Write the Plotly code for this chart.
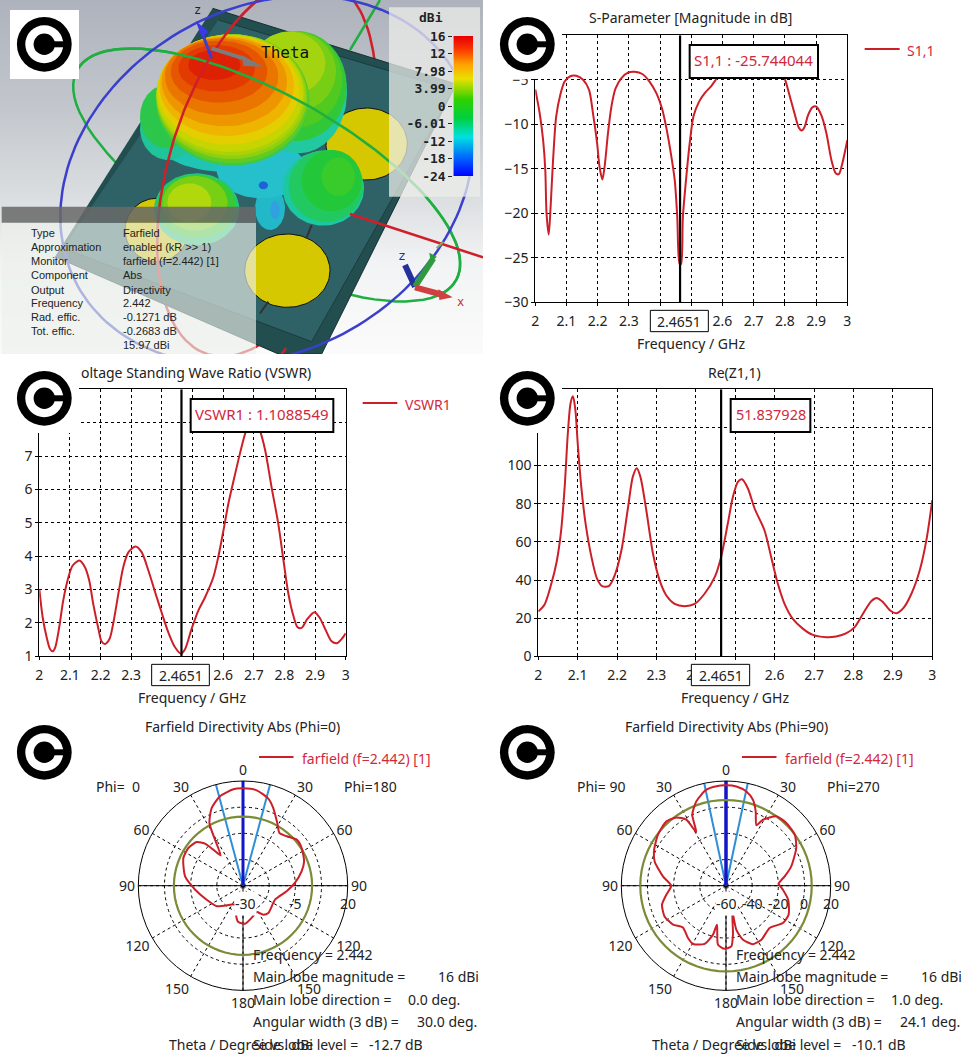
import numpy as np
import plotly.graph_objects as go

W, H = 966, 1062
FONT = "Noto Sans"
TXT = "#222222"
RED = "#cc1f28"
RED_TXT = "#d2283c"

# ---------- data ----------
marker_freq = 2.464
marker_label = "2.4651"

s11_f = [2,2.014,2.025,2.032,2.036,2.043,2.049,2.057,2.067,2.08,2.094,2.112,2.131,2.153,2.172,2.185,2.198,2.206,2.215,2.222,2.233,2.244,2.257,2.276,2.297,2.318,2.343,2.366,2.388,2.406,2.42,2.436,2.447,2.455,2.4627,2.467,2.473,2.484,2.495,2.507,2.525,2.543,2.564,2.585,2.62,2.66,2.7,2.74,2.78,2.799,2.813,2.831,2.845,2.854,2.863,2.874,2.888,2.9,2.917,2.933,2.949,2.963,2.973,2.984,3]
s11_db = [-6.07,-8.76,-11.76,-15.1,-20,-22.4,-19.3,-14,-9.1,-6.7,-5.2,-4.6,-4.55,-5,-6.1,-8.8,-12.1,-14.8,-16.2,-14.8,-11,-8,-6,-4.8,-4.2,-4.1,-4.35,-5.2,-6.5,-8.2,-10.4,-13.6,-16.3,-20.4,-25.7,-25.7,-20.4,-15.9,-12.1,-9.1,-7.45,-6.5,-5.7,-4.7,-3.5,-2.5,-2.2,-2.5,-3.5,-4.8,-6.5,-8.8,-10.4,-10.7,-10.3,-9,-8.1,-8,-9,-11,-14,-15.5,-15.6,-14.4,-11.8]

vswr_f = [2,2.011,2.024,2.035,2.044,2.052,2.065,2.078,2.095,2.109,2.131,2.149,2.163,2.176,2.193,2.203,2.214,2.229,2.242,2.258,2.274,2.291,2.314,2.334,2.356,2.378,2.399,2.421,2.443,2.4625,2.476,2.497,2.519,2.541,2.568,2.584,2.601,2.617,2.633,2.655,2.675,2.698,2.72,2.737,2.758,2.78,2.797,2.813,2.829,2.843,2.856,2.875,2.898,2.914,2.933,2.954,2.971,2.987,3]
vswr_v = [3.02,2.17,1.57,1.22,1.15,1.27,1.87,2.67,3.37,3.72,3.87,3.67,3.27,2.57,1.82,1.45,1.37,1.52,2.02,2.87,3.67,4.12,4.29,4.12,3.57,2.92,2.32,1.72,1.27,1.08,1.22,1.82,2.37,2.77,3.37,3.97,4.77,5.57,6.22,7.08,7.76,8.2,7.76,7.18,6.07,4.97,3.87,2.87,2.22,1.87,1.85,2.12,2.32,2.17,1.82,1.45,1.39,1.52,1.69]

rez_f = [2,2.016,2.033,2.047,2.058,2.067,2.075,2.082,2.088,2.094,2.1,2.109,2.12,2.135,2.149,2.162,2.179,2.194,2.211,2.228,2.24,2.25,2.259,2.274,2.291,2.308,2.325,2.346,2.371,2.397,2.422,2.448,2.464,2.481,2.494,2.507,2.517,2.532,2.549,2.574,2.591,2.608,2.625,2.646,2.672,2.697,2.731,2.756,2.782,2.803,2.824,2.845,2.86,2.875,2.893,2.909,2.927,2.947,2.968,2.985,3]
rez_v = [23.5,27.2,38,50,66,89,117,132.8,136.3,129.3,111.8,89,69.6,52,40.7,36.8,36.8,42.5,55.6,78.4,94.2,98.6,94.2,76.7,53.9,39.8,31.9,27.5,26.3,27.5,32.8,41.6,52.1,69.6,83.7,91.6,92.8,88,77.5,66.1,52.1,38,27.5,19.6,14.4,11.2,10,10.4,12.1,15.3,22.3,28.9,30.5,28.4,24,22.6,25.4,32.8,45,60.9,81.9]

phi0_theta = [0,8.2,16.2,21.3,28.7,34.6,41.5,49.4,57.3,68.3,76.3,87,97.4,113.6,137.2,145,152.6,165,177,187.3,193.6,198.4,210.8,231.9,248.9,265.2,279.1,294.9,304.6,313.3,317.9,320.5,323.6,328.7,331.8,338,345.6,354.3,360]
phi0_db = [16.5,16,13.3,9.8,4.1,0.6,1.5,3.8,3.3,1.4,-1.2,-5.2,-9,-13.3,-12.2,-13.1,-15.8,-14.1,-11.8,-12.5,-15.8,-20.4,-19.5,-14.1,-11.4,-7.1,-2,1.4,1.7,0.4,-2.9,-7.7,-12,-4.2,3.9,10,14.1,16.3,16.5]

phi90_theta = [0,6,12.2,17.4,21.8,26.7,29.3,36,43.9,53.4,61.8,73.5,81,87.8,94,102.7,114.8,123.2,134.1,146.8,155.2,162.5,166.8,166.1,171.9,175,181.2,187.7,193,194.9,200.1,209.5,216,225.9,233.7,243.4,253.5,261.4,270,278.4,288.8,296.6,306.9,317.2,324,329,331,334.6,340.6,348.4,354.5,360]
phi90_db = [16.7,16.2,13.6,8.8,1.1,-8.3,-2.2,5.5,6.5,5.5,0.9,-8,-14.6,-19.7,-16.4,-11.3,-7.3,-8,-13.6,-10.6,-10.8,-16.7,-25.3,-39.9,-22.3,-13.4,-11.8,-14.4,-29.4,-21.3,-12.6,-8.8,-10.6,-14.1,-9.8,-7.5,-9,-13.9,-18.2,-11.3,-2.4,1.4,5,7,4.5,-1.1,-13.1,0.1,8.3,14.9,16.4,16.7]

freq_ticks = [2,2.1,2.2,2.3,2.4,2.5,2.6,2.7,2.8,2.9,3]
freq_labels = ["2","2.1","2.2","2.3","2.4","2.5","2.6","2.7","2.8","2.9","3"]
s11_ticks = [-30,-25,-20,-15,-10,-5,0]
vswr_ticks = [1,2,3,4,5,6,7,8,9]
rez_ticks = [0,20,40,60,80,100,120,140]
angle_ticks = [0,30,60,90,120,150,180,210,240,270,300,330]
angle_labels = ["0","30","60","90","120","150","180","150","120","90","60","30"]

cbar_labels = ["-24","-18","-12","-6.01","0","3.99","7.98","12","16"]
cbar_levels = [0,0.5,1,1.5,2,2.5,3,3.5,4,4.5,5,5.5,6,6.5,7,7.5,8]

info_names = ["Type","Approximation","Monitor","Component","Output","Frequency","Rad. effic.","Tot. effic."]
info_values = ["Farfield","enabled (kR >> 1)","farfield (f=2.442) [1]","Abs","Directivity","2.442","-0.1271 dB","-0.2683 dB","15.97 dBi"]
info_rows = [698,741,783,825,870,909,951,993,1035]

# ---------- helpers ----------
def px(x): return x / W
def py(y): return 1 - y / H

fig = go.Figure()
shapes, anns = [], []

def ann(text, x, y, anchor="center", color=TXT, size=14, family=FONT, bg=None, w=None, h=None, weight=None):
    d = dict(text=text, x=px(x), y=py(y), xref="paper", yref="paper", showarrow=False,
             xanchor=anchor, yanchor="middle", align="left",
             font=dict(family=family, size=size, color=color, weight=weight), borderpad=0)
    if bg: d["bgcolor"] = bg
    if w: d["width"] = w
    if h: d["height"] = h
    anns.append(d)

def rect(x0, y0, x1, y1, fill="white", line="black", lw=1):
    shapes.append(dict(type="rect", xref="paper", yref="paper", layer="above",
                       x0=px(x0), x1=px(x1), y0=py(y0), y1=py(y1), fillcolor=fill,
                       line=dict(color=line, width=lw)))

def disc(cx, cy, r, fill):
    shapes.append(dict(type="circle", xref="paper", yref="paper", layer="above",
                       x0=px(cx-r), x1=px(cx+r), y0=py(cy-r), y1=py(cy+r), fillcolor=fill,
                       line=dict(width=0)))

def hline(x0, x1, y, color=RED, lw=2):
    shapes.append(dict(type="line", xref="paper", yref="paper", layer="above",
                       x0=px(x0), x1=px(x1), y0=py(y), y1=py(y), line=dict(color=color, width=lw)))

def logo(ox, oy):
    rect(ox+10, oy+10, ox+79, oy+79, line="white", lw=0)
    cx, cy = ox+44.3, oy+44.3
    disc(cx, cy, 27.4, "black")
    disc(cx, cy, 19, "white")
    rect(cx, cy-3, cx+21, cy+3, fill="black", line="black", lw=0)
    disc(cx, cy, 10.7, "black")

def ell(cx, cy, a, b, tilt=0, t0=0, t1=360, n=90):
    t = np.radians(np.linspace(t0, t1, n))
    c, s = np.cos(np.radians(tilt)), np.sin(np.radians(tilt))
    x = cx + a*np.cos(t)*c - b*np.sin(t)*s
    y = cy + a*np.cos(t)*s + b*np.sin(t)*c
    return x, y

# ---------- panel 1: illustration in 3x pixel units ----------
def pix_fill(x, y, color, line=None, lw=0):
    fig.add_trace(go.Scatter(x=list(x), y=list(y), mode="lines", fill="toself", fillcolor=color,
                             line=dict(color=line or "rgba(0,0,0,0)", width=lw), hoverinfo="skip",
                             xaxis="x", yaxis="y", showlegend=False))

def pix_line(x, y, color, lw=2):
    fig.add_trace(go.Scatter(x=list(x), y=list(y), mode="lines", line=dict(color=color, width=lw),
                             hoverinfo="skip", xaxis="x", yaxis="y", showlegend=False))

BG_Y = [0,150,300,450,600,750,900,1062]
BG_Z = [0,1,2,3,4,5,6,7]
fig.add_trace(go.Heatmap(x=[0,1449], y=BG_Y, z=[[v,v] for v in BG_Z], showscale=False, hoverinfo="skip",
                         zsmooth="best", xaxis="x", yaxis="y",
                         colorscale=[[0,"#aeb2bc"],[0.3,"#c2c6cc"],[0.58,"#dde0e2"],[0.75,"#f2f3f4"],[1,"#fbfbfb"]]))

C_RED, C_GRN, C_BLU = "#cf1f2a", "#1fae40", "#3a40cc"
RED_RING = (800, 500, 590, 290, 107.5)
GRN_RING = (800, 525, 650, 242, 29)
# rings behind the board
x, y = ell(*GRN_RING); pix_line(x, y, C_GRN, 2.5)
x, y = ell(*RED_RING, n=120); pix_line(x, y, C_RED, 2.5)
pix_line([1050,1140], [150,0], C_GRN, 2.5)

# board
pix_fill([638,1368,965,835,165], [25,252,1062,1062,770], "#234e50", "#152f30", 1)
pix_fill([655,1360,935,190], [60,270,1025,745], "#2f6266", "#1c3b3d", 1)
# patches
for cx, cy, rx, ry in [(1100,432,122,108),(862,812,128,110),(470,690,95,95)]:
    x, y = ell(cx, cy, rx, ry); pix_fill(x, y, "#d6c800", "#111111", 1)

# lobes: (cx, cy, rx, ry, colour)
lobes = [
 (810,625,45,65,"#22b8c8"),
 (690,405,235,112,"#1fc4b4"),(785,510,135,85,"#25c0cc"),
 (505,385,85,95,"#1fc49a"),(500,350,80,95,"#2cc74a"),
 (895,280,146,180,"#22c8a0"),(890,258,150,165,"#30c838"),(885,238,142,145,"#50ca20"),(878,215,130,122,"#78ce14"),(868,190,108,95,"#a4d410"),
 (590,628,128,108,"#22c878"),(590,620,118,95,"#38ca30"),(585,610,98,82,"#78cf14"),(568,608,66,58,"#b0d80c"),
 (970,565,122,112,"#1cc8a0"),(978,558,112,108,"#22c860"),(995,542,90,92,"#22c83a"),(1015,530,50,58,"#38cb2a"),
 (698,300,230,197,"#3ec848"),(697,296,229,193,"#62cb22"),(695,290,226,187,"#8ed010"),(692,285,223,182,"#aad208"),(690,280,220,176,"#c6d400"),(685,270,212,164,"#e4ce00"),
 (680,258,202,150,"#efb400"),(673,245,188,134,"#ee9600"),(665,230,170,115,"#ea7600"),(657,215,145,93,"#e65600"),
 (650,205,115,70,"#e23a00"),(643,195,78,45,"#de2004"),
 (790,556,14,12,"#2060d8"),(825,630,14,28,"#30a0e0"),
]
for cx, cy, rx, ry, col in lobes:
    x, y = ell(cx, cy, rx, ry); pix_fill(x, y, col)

# rings in front
x, y = ell(*GRN_RING, 175, 375); pix_line(x, y, C_GRN, 2.5)
x, y = ell(*RED_RING, 40, 180); pix_line(x, y, C_RED, 2.5)
x, y = ell(800, 540, 650, 515, -30, n=160); pix_line(x, y, C_BLU, 2.5)
pix_line([1050,1449], [642,772], C_RED, 2.5)
pix_line([858,845], [1045,1062], C_RED, 2.5)

# axis arrows
pix_line([635,605], [175,95], C_BLU, 3)
pix_fill([587,627,605], [62,96,112], "#3a38e8")
pix_line([635,730], [145,175], "#7c7c7c", 4)
pix_fill([725,790,730], [165,200,198], "#7c7c7c")
pix_line([1245,1215], [860,795], "#24309c", 6)
pix_line([1245,1300], [860,775], "#2f9a40", 6)
pix_fill([1288,1310,1292], [758,770,790], "#2f9a40")
pix_line([1245,1330], [862,885], "#d04040", 6)
pix_fill([1315,1358,1318], [868,892,900], "#d04040")
pix_line([1310,1330], [745,725], "#79b15a", 2)
pix_line([935,920], [675,712], "#333333", 2)
pix_line([805,780], [905,940], "#333333", 2)

# translucent panels
pix_fill([1167,1440,1440,1167], [22,22,590,590], "rgba(236,238,234,0.74)")
pix_fill([5,768,768,5], [668,668,1062,1062], "rgba(236,240,234,0.66)")
pix_fill([5,768,768,5], [620,620,668,668], "rgba(105,105,105,0.86)")

# colour bar
fig.add_trace(go.Heatmap(z=[[v] for v in cbar_levels], y=cbar_levels, x=[0], xaxis="x2", yaxis="y2",
                         showscale=False, hoverinfo="skip", zsmooth="best",
                         colorscale=[[0,"#0000ff"],[0.13,"#0060ff"],[0.28,"#00e0e0"],[0.42,"#00d040"],
                                     [0.55,"#30d000"],[0.7,"#e8e000"],[0.8,"#ffa000"],[0.92,"#f83000"],[1,"#e80000"]]))

MONO = "DejaVu Sans Mono"
ann("Theta", 285, 53, family=MONO, size=16, color="#111111")
ann("z", 197, 10, family=MONO, size=12, color="#222222")
ann("dBi", 431, 17, family=MONO, size=13, color="#222222", weight=700)
ann("z", 402, 256, family=MONO, size=13, color="#2a30a0")
ann("x", 460, 302, family=MONO, size=12, color="#c83030")
for name, row in zip(info_names, info_rows):
    ann(name, 29.5, row/3, "left", family="Liberation Sans", size=11)
for val, row in zip(info_values, info_rows):
    ann(val, 121.5, row/3, "left", family="Liberation Sans", size=11)

# ---------- line panels ----------
AX = dict(showline=True, mirror=True, linecolor="black", linewidth=1, ticks="outside", ticklen=3, tickcolor="black",
          showgrid=True, gridcolor="black", gridwidth=1, griddash="3px,3px", zeroline=False, fixedrange=True,
          tickfont=dict(family=FONT, size=14, color=TXT))

def curve(x, y, ax, ay):
    fig.add_trace(go.Scatter(x=x, y=y, mode="lines", line=dict(color=RED, width=2, shape="spline", smoothing=0.8),
                             xaxis=ax, yaxis=ay, hoverinfo="skip", showlegend=False))

def marker(ymin, ymax, ax, ay):
    fig.add_trace(go.Scatter(x=[marker_freq, marker_freq], y=[ymin, ymax], mode="lines",
                             line=dict(color="black", width=2.2), xaxis=ax, yaxis=ay, hoverinfo="skip", showlegend=False))

curve(s11_f, s11_db, "x3", "y3"); marker(-30, 0, "x3", "y3")
curve(vswr_f, vswr_v, "x4", "y4"); marker(1, 9, "x4", "y4")
curve(rez_f, rez_v, "x5", "y5"); marker(0, 140, "x5", "y5")

# ---------- polar panels ----------
def polar(theta, db, rmin, rmax, contour, beam, sub):
    for t, col, lw in [(90,"black",1),(270,"black",1),(180,"black",1),(beam,"#2f8fd6",2),(-beam,"#2f8fd6",2),(0,"#1414c8",3 if sub=="polar" else 3.5)]:
        fig.add_trace(go.Scatterpolar(theta=[t,t], r=[rmin,rmax], mode="lines", line=dict(color=col, width=lw),
                                      subplot=sub, hoverinfo="skip", showlegend=False))
    angs = list(range(0,361,5))
    fig.add_trace(go.Scatterpolar(theta=angs, r=[contour]*len(angs), mode="lines", line=dict(color="#7a8c38", width=2.2),
                                  subplot=sub, hoverinfo="skip", showlegend=False))
    fig.add_trace(go.Scatterpolar(theta=theta, r=db, mode="lines", line=dict(color=RED, width=2, shape="spline", smoothing=0.6),
                                  subplot=sub, hoverinfo="skip", showlegend=False))

polar(phi0_theta, phi0_db, -30, 20, 3, 15, "polar")
polar(phi90_theta, phi90_db, -60, 20, 5.5, 12, "polar2")

def polar_layout(ox, oy, rmin, rmax, rticks):
    cx, cy, R = ox+243, oy+177.7, 104.7
    return dict(domain=dict(x=[px(cx-R), px(cx+R)], y=[py(cy+R), py(cy-R)]), bgcolor="white",
                radialaxis=dict(range=[rmin, rmax], tickvals=rticks, showticklabels=False, ticks="", showline=False,
                                gridcolor="black", gridwidth=1, griddash="3px,3px"),
                angularaxis=dict(rotation=90, direction="clockwise", tickmode="array", tickvals=angle_ticks, ticktext=angle_labels,
                                 ticks="", showline=True, linecolor="black", linewidth=1, gridcolor="black", gridwidth=1,
                                 griddash="3px,3px", tickfont=dict(family=FONT, size=14, color=TXT)))

# ---------- layout ----------
def dom_x(a, b): return [px(a), px(b)]
def dom_y(a, b): return [py(b), py(a)]

layout = dict(
    width=W, height=H, margin=dict(l=0, r=0, t=0, b=0, pad=0, autoexpand=False), paper_bgcolor="white", plot_bgcolor="white",
    showlegend=False, hovermode=False,
    xaxis=dict(domain=dom_x(0,483), range=[0,1449], visible=False, fixedrange=True),
    yaxis=dict(domain=dom_y(0,354), range=[1062,0], visible=False, fixedrange=True),
    xaxis2=dict(domain=dom_x(453.3,473.3), range=[-0.5,0.5], visible=False, fixedrange=True, anchor="y2"),
    yaxis2=dict(domain=dom_y(36,176), range=[0,8], anchor="x2", tickmode="array", tickvals=list(range(9)), ticktext=cbar_labels,
                ticks="outside", ticklen=4, tickcolor="#222222", showgrid=False, zeroline=False, fixedrange=True,
                tickfont=dict(family=MONO, size=13, color="#222222", weight=700)),
    xaxis3=dict(domain=dom_x(535.3,847.3), range=[2,3], anchor="y3", tickmode="array", tickvals=freq_ticks, ticktext=freq_labels, ticklabelstandoff=3, **AX),
    yaxis3=dict(domain=dom_y(35.3,302.3), range=[-30,0], anchor="x3", tickmode="array", tickvals=s11_ticks, **AX),
    xaxis4=dict(domain=dom_x(39.3,345.7), range=[2,3], anchor="y4", tickmode="array", tickvals=freq_ticks, ticktext=freq_labels, ticklabelstandoff=3, **AX),
    yaxis4=dict(domain=dom_y(389.3,656.3), range=[1,9], anchor="x4", tickmode="array", tickvals=vswr_ticks, **AX),
    xaxis5=dict(domain=dom_x(538.3,932.3), range=[2,3], anchor="y5", tickmode="array", tickvals=freq_ticks, ticktext=freq_labels, ticklabelstandoff=3, **AX),
    yaxis5=dict(domain=dom_y(389.3,656.3), range=[0,140], anchor="x5", tickmode="array", tickvals=rez_ticks, **AX),
    polar=polar_layout(0,708,-30,20,[-17.5,-5,7.5]),
    polar2=polar_layout(483,708,-60,20,[-40,-20,0]),
)

# chart panel furniture (zoom units /3)
def panel_text(ox, oy, title, tx, xtitle_x, mark_box, call_box, call_text, legend=None, call_size=15):
    ann(title, ox+tx/3, oy+18)
    ann("Frequency / GHz", ox+xtitle_x/3, oy+343.5)
    b = mark_box
    rect(ox+b[0]/3, oy+931/3, ox+b[1]/3, oy+995/3)
    ann(marker_label, ox+(b[0]+b[1])/6, oy+321.5)
    c = call_box
    rect(ox+c[0]/3, oy+45, ox+c[1]/3, oy+78, lw=2)
    ann(call_text, ox+(c[0]+c[1])/6, oy+60, color=RED_TXT, size=call_size)
    if legend:
        hline(ox+legend[0]/3, ox+legend[1]/3, oy+49)
        ann(legend[3], ox+legend[2]/3, oy+50, "left", color=RED_TXT)

for ox, oy in [(0,0),(483,0),(0,354),(483,354),(0,708),(483,708)]:
    logo(ox, oy)

panel_text(483,0,"S-Parameter [Magnitude in dB]",623,623,(502,676),(620,1005),"S1,1 : -25.744044",(1145,1250,1270,"S1,1"))
panel_text(0,354,"oltage Standing Wave Ratio (VSWR)",588,575,(455,628),(572,1000),"VSWR1 : 1.1088549",(1088,1192,1212,"VSWR1"))
panel_text(483,354,"Re(Z1,1)",755,755,(625,800),(743,982),"51.837928",None,14.5)

def polar_text(ox, oy, title, left, right, lx, radial, rows):
    ann(title, ox+243, oy+18)
    hline(ox+259, ox+293.5, oy+49)
    ann("farfield (f=2.442) [1]", ox+300.5, oy+50, "left", color=RED_TXT)
    ann(left, ox+lx/3, oy+78.5, "left")
    ann(right, ox+342.5, oy+78.5, "left")
    for i, (t, x) in enumerate(radial):
        if i == 0:
            ann(t, ox+x/3, oy+195, bg="white", h=23)
        else:
            ann(t, ox+x/3, oy+195)
    ann("Theta / Degree vs. dBi", ox+167.5, oy+336.5, "left")
    ys = [246.5, 268.5, 292, 313.5, 336.5]
    for (name, val, vx), y in zip(rows, ys):
        ann(name, ox+252, oy+y, "left")
        if val:
            ann(val, ox+vx/3, oy+y, "left")

polar_text(0,708,"Farfield Directivity Abs (Phi=0)","Phi=  0","Phi=180",285,
           [("-30",735),("-5",885),("20",1045)],
           [("Frequency = 2.442",None,0),("Main lobe magnitude =","16 dBi",1312),("Main lobe direction =","0.0 deg.",1222),
            ("Angular width (3 dB) =","30.0 deg.",1248),("Side lobe level =","-12.7 dB",1105)])
polar_text(483,708,"Farfield Directivity Abs (Phi=90)","Phi= 90","Phi=270",279,
           [("-60",729),("-40",807),("-20",885),("0",963),("20",1045)],
           [("Frequency = 2.442",None,0),("Main lobe magnitude =","16 dBi",1312),("Main lobe direction =","1.0 deg.",1222),
            ("Angular width (3 dB) =","24.1 deg.",1248),("Side lobe level =","-10.1 dB",1105)])

layout["shapes"] = shapes
layout["annotations"] = anns
fig.update_layout(**layout)
fig.write_html("out.html", post_script="document.body.style.margin='0';document.body.style.overflow='hidden';",
               config=dict(displayModeBar=False))
